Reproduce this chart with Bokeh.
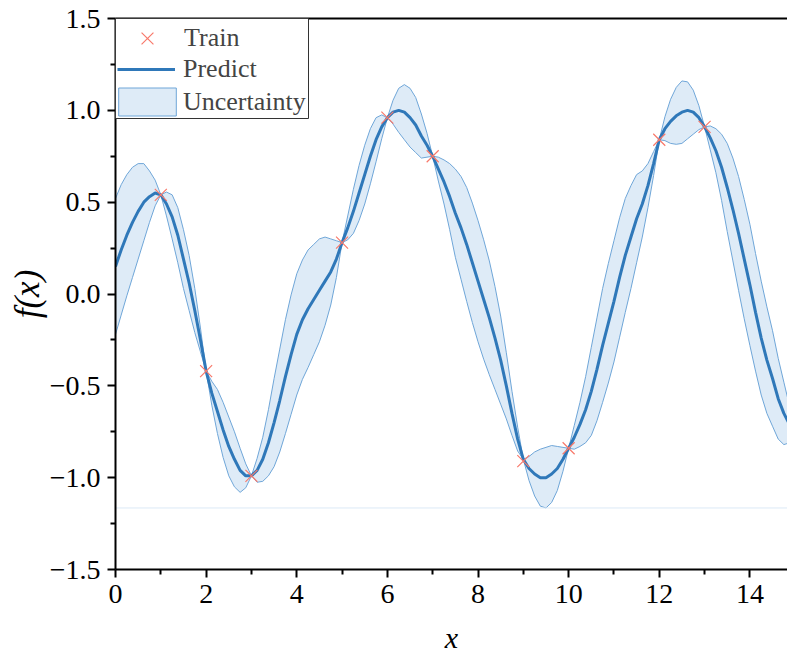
from bokeh.plotting import figure
from bokeh.models import (Range1d, FixedTicker, LinearAxis, Legend, LegendItem,
                          BoxAnnotation)
from bokeh.embed import file_html
from bokeh.resources import INLINE

# ---- data (x step 0.125) ----
x_grid = [i * 0.125 for i in range(121)]  # 0 .. 15
predict = [
    0.15, 0.24, 0.32, 0.39, 0.45, 0.50, 0.53, 0.55,          # 0.000-0.875
    0.54, 0.49, 0.42, 0.32, 0.19, 0.06, -0.09, -0.25,        # 1.000-1.875
    -0.42, -0.54, -0.64, -0.74, -0.83, -0.90, -0.96, -0.99,  # 2.000-2.875
    -0.99, -0.96, -0.90, -0.81, -0.70, -0.58, -0.45, -0.33,  # 3.000-3.875
    -0.22, -0.14, -0.08, -0.03, 0.02, 0.07, 0.12, 0.19,      # 4.000-4.875
    0.28, 0.36, 0.45, 0.55, 0.65, 0.75, 0.84, 0.91,          # 5.000-5.875
    0.96, 0.99, 1.00, 0.99, 0.96, 0.92, 0.86, 0.81,          # 6.000-6.875
    0.75, 0.68, 0.61, 0.53, 0.44, 0.36, 0.27, 0.17,          # 7.000-7.875
    0.07, -0.03, -0.13, -0.24, -0.36, -0.50, -0.65, -0.79,   # 8.000-8.875
    -0.90, -0.95, -0.98, -1.00, -1.00, -0.98, -0.95, -0.90,  # 9.000-9.875
    -0.84, -0.78, -0.71, -0.63, -0.53, -0.41, -0.28, -0.16,  # 10.000-10.875
    -0.04, 0.09, 0.21, 0.31, 0.41, 0.49, 0.59, 0.71,         # 11.000-11.875
    0.84, 0.90, 0.94, 0.97, 0.99, 1.00, 0.99, 0.96,          # 12.000-12.875
    0.91, 0.85, 0.78, 0.69, 0.58, 0.46, 0.33, 0.19,          # 13.000-13.875
    0.05, -0.10, -0.24, -0.36, -0.46, -0.57, -0.65, -0.71,   # 14.000-14.875
    -0.76,                                                   # 15.000
]
# half-width of the shaded uncertainty band around the prediction
band_half = [
    0.37, 0.355, 0.33, 0.30, 0.26, 0.21, 0.14, 0.07,
    0.00, 0.065, 0.12, 0.15, 0.16, 0.15, 0.12, 0.065,
    0.00, 0.065, 0.12, 0.15, 0.16, 0.15, 0.12, 0.065,
    0.00, 0.065, 0.12, 0.18, 0.24, 0.28, 0.31, 0.325,
    0.33, 0.325, 0.32, 0.30, 0.28, 0.24, 0.18, 0.10,
    0.00, 0.065, 0.12, 0.15, 0.16, 0.15, 0.12, 0.065,
    0.00, 0.065, 0.12, 0.15, 0.16, 0.15, 0.12, 0.065,
    0.00, 0.065, 0.12, 0.18, 0.24, 0.28, 0.31, 0.325,
    0.33, 0.325, 0.31, 0.28, 0.24, 0.18, 0.12, 0.065,
    0.00, 0.065, 0.12, 0.155, 0.165, 0.155, 0.12, 0.065,
    0.00, 0.065, 0.12, 0.18, 0.24, 0.28, 0.31, 0.325,
    0.33, 0.325, 0.31, 0.28, 0.24, 0.18, 0.12, 0.065,
    0.00, 0.065, 0.12, 0.155, 0.17, 0.155, 0.12, 0.065,
    0.00, 0.065, 0.12, 0.18, 0.24, 0.28, 0.31, 0.325,
    0.33, 0.32, 0.31, 0.29, 0.26, 0.22, 0.17, 0.10,
    0.00,
]
train_x = [1, 2, 3, 5, 6, 7, 9, 10, 12, 13, 15]
train_y = [0.54, -0.42, -0.99, 0.28, 0.96, 0.75, -0.91, -0.84, 0.84, 0.91, -0.76]

x_ticks = [0, 2, 4, 6, 8, 10, 12, 14]
x_minor = [1, 3, 5, 7, 9, 11, 13, 15]
y_ticks = [-1.5, -1.0, -0.5, 0.0, 0.5, 1.0, 1.5]
y_minor = [-1.25, -0.75, -0.25, 0.25, 0.75, 1.25]

upper = [m + h for m, h in zip(predict, band_half)]
lower = [m - h for m, h in zip(predict, band_half)]

FONT = "Liberation Serif"
LINE_C = "#2f78b9"
BAND_FILL = "#deebf7"
BAND_EDGE = "#6fa6d8"
TRAIN_C = "#f8796b"

p = figure(width=787, height=656, output_backend="svg", toolbar_location=None,
           x_range=Range1d(0, 14.83), y_range=Range1d(-1.5, 1.5),
           min_border_left=115, min_border_right=0, min_border_top=18,
           min_border_bottom=87)
p.outline_line_color = None
p.grid.visible = False
p.background_fill_color = "white"
p.border_fill_color = "white"

band_x = x_grid + x_grid[::-1]
band_y = upper + lower[::-1]
r_band = p.patch(band_x, band_y, fill_color=BAND_FILL, fill_alpha=1.0,
                 line_color=BAND_EDGE, line_width=1)
y_base = min(lower)
p.line([x_grid[0], x_grid[-1]], [y_base, y_base], line_color="#dce9f6", line_width=1)

r_line = p.line(x_grid, predict, line_color=LINE_C, line_width=3)
r_train = p.scatter(train_x, train_y, marker="x", size=17, line_color=TRAIN_C,
                    line_width=1.2)

for ax in (p.xaxis[0], p.yaxis[0]):
    ax.axis_line_width = 2
    ax.axis_line_color = "black"
    ax.major_tick_line_width = 2
    ax.minor_tick_line_width = 2
    ax.major_tick_in = 0
    ax.major_tick_out = 8
    ax.minor_tick_in = 0
    ax.minor_tick_out = 5
    ax.major_label_text_font = FONT
    ax.major_label_text_font_size = "28px"
    ax.major_label_text_color = "black"
    ax.axis_label_text_font = FONT
    ax.axis_label_text_font_style = "italic"
    ax.axis_label_text_color = "black"

p.xaxis[0].ticker = FixedTicker(ticks=x_ticks, minor_ticks=x_minor)
p.yaxis[0].ticker = FixedTicker(ticks=y_ticks, minor_ticks=y_minor)
p.yaxis[0].major_label_overrides = {t: f"{t:.1f}".replace("-", "\u2212") for t in y_ticks}
p.xaxis[0].major_label_overrides = {t: str(t) for t in x_ticks}
p.xaxis[0].axis_label = "x"
p.yaxis[0].axis_label = "f(x)"
p.xaxis[0].axis_label_text_font_size = "30px"
p.yaxis[0].axis_label_text_font_size = "35px"
p.xaxis[0].major_label_standoff = 7
p.xaxis[0].axis_label_standoff = 15
p.yaxis[0].major_label_standoff = 7
p.yaxis[0].axis_label_standoff = 0

top_axis = LinearAxis(major_tick_line_color=None, minor_tick_line_color=None,
                      major_label_text_font_size="0px", major_label_standoff=0,
                      axis_line_width=2, axis_line_color="black")
top_axis.ticker = FixedTicker(ticks=[])
p.add_layout(top_axis, "above")

# legend frame (screen units: from the frame's bottom-left corner)
legend_box = BoxAnnotation(left=0, right=193, bottom=451, top=551,
                           left_units="screen", right_units="screen",
                           bottom_units="screen", top_units="screen",
                           fill_color="white", fill_alpha=1.0,
                           line_color="#333333", line_width=1, line_alpha=1.0)
p.add_layout(legend_box)

common = dict(margin=0, padding=0, spacing=0, border_line_color=None,
              background_fill_alpha=0.0, label_text_font=FONT,
              label_text_font_size="26px", label_text_baseline="middle")
leg_train = Legend(items=[LegendItem(label="Train", renderers=[r_train])],
                   location=(3, 510), glyph_width=58, glyph_height=42,
                   label_standoff=8, **common)
leg_pred = Legend(items=[LegendItem(label="Predict", renderers=[r_line])],
                  location=(2, 485), glyph_width=58, glyph_height=28,
                  label_standoff=8, **common)
leg_band = Legend(items=[LegendItem(label="Uncertainty", renderers=[r_band])],
                  location=(-4, 450), glyph_width=72, glyph_height=35,
                  label_standoff=0, **common)
for lg in (leg_train, leg_pred, leg_band):
    p.add_layout(lg)

open("out.html", "w").write(file_html(p, INLINE))
